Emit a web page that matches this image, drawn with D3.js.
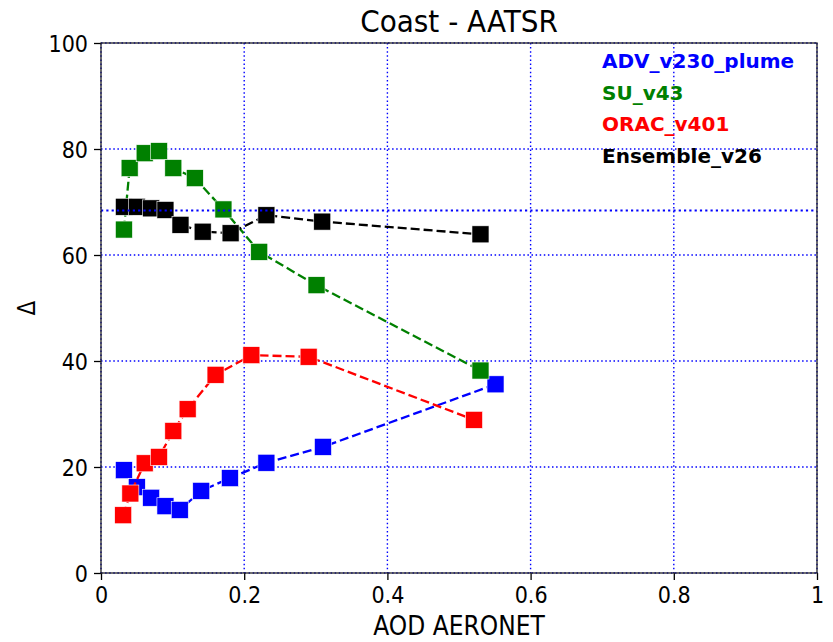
<!DOCTYPE html>
<html>
<head>
<meta charset="utf-8">
<script src="https://cdn.jsdelivr.net/npm/d3@7"></script>
<style>
    body { margin: 0; background: #ffffff; }
    text { font-family: "DejaVu Sans Condensed", "DejaVu Sans", sans-serif; }
</style>
</head>
<body>
<div id="chart"></div>
<script>
'use strict';

// series values (AOD AERONET bin centre, delta)
let advX = [0.032, 0.05, 0.07, 0.09, 0.11, 0.14, 0.18, 0.231, 0.31, 0.551];
let advY = [19.4, 16.2, 14.2, 12.6, 11.9, 15.5, 17.9, 20.8, 23.8, 35.6];

let suX = [0.032, 0.04, 0.061, 0.081, 0.101, 0.131, 0.171, 0.221, 0.301, 0.53];
let suY = [64.8, 76.4, 79.2, 79.6, 76.4, 74.5, 68.6, 60.6, 54.3, 38.2];

let oracX = [0.031, 0.041, 0.061, 0.081, 0.101, 0.121, 0.16, 0.21, 0.29, 0.521];
let oracY = [10.9, 15.0, 20.7, 21.9, 26.8, 30.9, 37.4, 41.1, 40.8, 28.9];

let ensX = [0.032, 0.05, 0.07, 0.09, 0.111, 0.142, 0.181, 0.231, 0.309, 0.53];
let ensY = [69.1, 69.1, 68.8, 68.5, 65.7, 64.4, 64.1, 67.5, 66.3, 63.9];

let seriesNames = ['ADV_v230_plume', 'SU_v43', 'ORAC_v401', 'Ensemble_v26'];
let seriesColors = ['#0000ff', '#008000', '#ff0000', '#000000'];

let refLine = 68.4;

let xTicks = [0, 0.2, 0.4, 0.6, 0.8, 1];
let yTicks = [0, 20, 40, 60, 80, 100];

let chartTitle = 'Coast - AATSR';
let xLabel = 'AOD AERONET';
let yLabel = '\u0394';

let series = [
    {name: seriesNames[0], color: seriesColors[0], x: advX, y: advY},
    {name: seriesNames[1], color: seriesColors[1], x: suX, y: suY},
    {name: seriesNames[2], color: seriesColors[2], x: oracX, y: oracY},
    {name: seriesNames[3], color: seriesColors[3], x: ensX, y: ensY}
];

let fullWidth = 833, fullHeight = 642;
let margin = {top: 43, right: 16, bottom: 69, left: 101};
let width = fullWidth - margin.left - margin.right;
let height = fullHeight - margin.top - margin.bottom;

let x = d3.scaleLinear().domain([0, 1]).range([0, width]);
let y = d3.scaleLinear().domain([0, 100]).range([height, 0]);

let nativeSvg = d3.select('#chart').append('svg')
    .attr('width', fullWidth)
    .attr('height', fullHeight);

nativeSvg.append('rect')
    .attr('width', fullWidth)
    .attr('height', fullHeight)
    .attr('fill', '#ffffff');

let svg = nativeSvg.append('g')
    .attr('transform', 'translate(' + margin.left + ',' + margin.top + ')');

// grid, below the data
let grid = svg.append('g').attr('class', 'grid');
grid.selectAll('.gx').data(xTicks).enter()
    .append('line')
    .attr('x1', d => x(d)).attr('x2', d => x(d))
    .attr('y1', 0).attr('y2', height)
    .style('stroke', '#0000ff')
    .style('stroke-width', 1.4)
    .style('stroke-dasharray', '1.5,2.6');
grid.selectAll('.gy').data(yTicks).enter()
    .append('line')
    .attr('x1', 0).attr('x2', width)
    .attr('y1', d => y(d)).attr('y2', d => y(d))
    .style('stroke', '#0000ff')
    .style('stroke-width', 1.4)
    .style('stroke-dasharray', '1.5,2.6');

// series: dashed line then square markers
let valueLine = d3.line()
    .x(d => x(d[0]))
    .y(d => y(d[1]));

let markerSize = 17;

series.forEach(function (s) {
    let pts = s.x.map((v, i) => [v, s.y[i]]);
    let g = svg.append('g').attr('class', 'series');

    g.append('path')
        .attr('d', valueLine(pts))
        .style('fill', 'none')
        .style('stroke', s.color)
        .style('stroke-width', 2.3)
        .style('stroke-dasharray', '9,4');

    g.selectAll('rect').data(pts).enter()
        .append('rect')
        .attr('x', d => x(d[0]) - markerSize / 2)
        .attr('y', d => y(d[1]) - markerSize / 2)
        .attr('width', markerSize)
        .attr('height', markerSize)
        .style('fill', s.color)
        .style('stroke', '#ffffff')
        .style('stroke-width', 0.6);
});

// horizontal reference line on top
svg.append('line')
    .attr('x1', 0).attr('x2', width)
    .attr('y1', y(refLine)).attr('y2', y(refLine))
    .style('stroke', '#0000ff')
    .style('stroke-width', 2.2)
    .style('stroke-dasharray', '2.2,3.1');

// axes
let bottom = d3.axisBottom(x).tickValues(xTicks).tickFormat(d3.format('~g')).tickSize(7).tickPadding(6);
let left = d3.axisLeft(y).tickValues(yTicks).tickSize(7).tickPadding(6);

let gx = svg.append('g')
    .attr('transform', 'translate(0,' + height + ')')
    .call(bottom);
let gy = svg.append('g').call(left);

[gx, gy].forEach(function (g) {
    g.select('.domain').remove();
    g.selectAll('line').style('stroke', '#000000').style('stroke-width', 1.3);
    g.selectAll('text')
        .style('font-family', '"DejaVu Sans Condensed", "DejaVu Sans", sans-serif')
        .style('font-size', '23px')
        .style('fill', '#000000');
});
gx.selectAll('text').attr('dy', '0.72em');
gy.selectAll('text').attr('dy', '0.36em');

// frame
svg.append('rect')
    .attr('width', width)
    .attr('height', height)
    .style('fill', 'none')
    .style('stroke', '#222222')
    .style('stroke-width', 1.3);

// labels
nativeSvg.append('text')
    .attr('x', margin.left + width / 2)
    .attr('y', 32)
    .style('text-anchor', 'middle')
    .style('font-size', '31px')
    .text(chartTitle);

nativeSvg.append('text')
    .attr('x', margin.left + width / 2)
    .attr('y', 635)
    .style('text-anchor', 'middle')
    .style('font-size', '26px')
    .text(xLabel);

nativeSvg.append('text')
    .attr('transform', 'translate(35,' + (margin.top + height / 2) + ') rotate(-90)')
    .style('text-anchor', 'middle')
    .style('font-size', '24px')
    .text(yLabel);

// legend, coloured text only
let legend = nativeSvg.append('g')
    .attr('transform', 'translate(602,68)');
legend.selectAll('text').data(series).enter()
    .append('text')
    .attr('x', 0)
    .attr('y', (d, i) => i * 31.7)
    .style('font-family', '"DejaVu Sans", sans-serif')
    .style('font-weight', 'bold')
    .style('font-size', '20px')
    .style('fill', d => d.color)
    .text(d => d.name);
</script>
</body>
</html>
